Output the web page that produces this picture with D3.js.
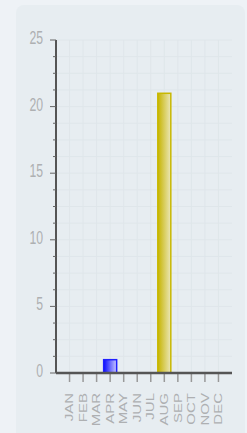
<!DOCTYPE html>
<html>
<head>
<meta charset="utf-8">
<style>
  html, body { margin: 0; padding: 0; background: #eef2f6; }
  svg { display: block; }
  .lbl { fill: #aeb0b2; font-family: "Liberation Sans", Arial, sans-serif; }
</style>
</head>
<body>
<script src="https://cdn.jsdelivr.net/npm/d3@7/dist/d3.min.js"></script>
<script>
var months = ["JAN", "FEB", "MAR", "APR", "MAY", "JUN", "JUL", "AUG", "SEP", "OCT", "NOV", "DEC"];
var counts = [0, 0, 0, 1, 0, 0, 0, 21, 0, 0, 0, 0];
var barColors = ["blue", "blue", "blue", "blue", "blue", "blue", "blue", "yellow", "blue", "blue", "blue", "blue"];
var yTicks = [0, 5, 10, 15, 20, 25];

var width = 247, height = 433;
var squeeze = 0.68; // text looks horizontally compressed

var svg = d3.select("body").append("svg")
    .attr("width", width)
    .attr("height", height);

// panel
svg.append("rect")
    .attr("x", 16).attr("y", 5)
    .attr("width", 229).attr("height", 460)
    .attr("rx", 8)
    .attr("fill", "#e7edf1");

var defs = svg.append("defs");
var grads = {
    blue: ["#0a0aff", "#c8c8ff", "#2020ff"],
    yellow: ["#c6b400", "#ebe7b8", "#c8b800"]
};
Object.keys(grads).forEach(function (k) {
    var g = defs.append("linearGradient").attr("id", "g-" + k)
        .attr("x1", "0").attr("x2", "1").attr("y1", "0").attr("y2", "0");
    g.append("stop").attr("offset", "0%").attr("stop-color", grads[k][0]);
    g.append("stop").attr("offset", "100%").attr("stop-color", grads[k][1]);
});

var x0 = 56, x1 = 232, yTop = 40, yBot = 373;

var x = d3.scalePoint().domain(months).range([x0, x1]).padding(1);
var y = d3.scaleLinear().domain([0, 25]).range([yBot, yTop]);

var minor = d3.range(0, 25.01, 1.25);

// grid
svg.append("g").selectAll("line.h").data(minor).enter().append("line")
    .attr("x1", x0).attr("x2", x1)
    .attr("y1", function (d) { return y(d); })
    .attr("y2", function (d) { return y(d); })
    .attr("stroke", "#dfe6ea").attr("stroke-width", 1);
svg.append("g").selectAll("line.v").data(months).enter().append("line")
    .attr("x1", function (d) { return x(d); })
    .attr("x2", function (d) { return x(d); })
    .attr("y1", yTop).attr("y2", yBot)
    .attr("stroke", "#dfe6ea").attr("stroke-width", 1);

// bars
var bw = 13;
svg.append("g").selectAll("rect").data(months).enter().append("rect")
    .filter(function (d, i) { return counts[i] > 0; })
    .attr("x", function (d) { return x(d) - bw / 2; })
    .attr("y", function (d) { return y(counts[months.indexOf(d)]); })
    .attr("width", bw)
    .attr("height", function (d) { return yBot - y(counts[months.indexOf(d)]); })
    .attr("fill", function (d) { return "url(#g-" + barColors[months.indexOf(d)] + ")"; })
    .attr("stroke", function (d) { return grads[barColors[months.indexOf(d)]][2]; })
    .attr("stroke-width", 1.5);

// y axis
var yAxis = svg.append("g").attr("transform", "translate(" + x0 + ",0)");
yAxis.append("line").attr("x1", 0).attr("x2", 0).attr("y1", yTop).attr("y2", yBot)
    .attr("stroke", "#555").attr("stroke-width", 2);
yAxis.selectAll("line.minor").data(minor.filter(function (d) { return d % 5 !== 0; })).enter().append("line")
    .attr("x1", -3).attr("x2", 0)
    .attr("y1", function (d) { return y(d); }).attr("y2", function (d) { return y(d); })
    .attr("stroke", "#666").attr("stroke-width", 1);
yAxis.selectAll("line.major").data(yTicks).enter().append("line")
    .attr("x1", -6).attr("x2", 0)
    .attr("y1", function (d) { return y(d); }).attr("y2", function (d) { return y(d); })
    .attr("stroke", "#666").attr("stroke-width", 1);
svg.append("g").selectAll("text").data(yTicks).enter().append("text")
    .attr("class", "lbl")
    .attr("transform", function (d) { return "translate(43," + (y(d) + 4) + ") scale(" + squeeze + ",1)"; })
    .attr("text-anchor", "end")
    .style("font-size", "18px")
    .text(function (d) { return d; });

// x axis
svg.append("g").selectAll("line").data(months).enter().append("line")
    .attr("x1", function (d) { return x(d); }).attr("x2", function (d) { return x(d); })
    .attr("y1", yBot).attr("y2", yBot + 9)
    .attr("stroke", "#999").attr("stroke-width", 1.5);
svg.append("line").attr("x1", x0).attr("x2", x1).attr("y1", yBot).attr("y2", yBot)
    .attr("stroke", "#555").attr("stroke-width", 2.5);
svg.append("g").selectAll("text").data(months).enter().append("text")
    .attr("class", "lbl")
    .attr("transform", function (d) { return "translate(" + x(d) + ",393) scale(" + squeeze + ",1) rotate(-90)"; })
    .attr("text-anchor", "end")
    .attr("dy", "0.36em")
    .style("font-size", "15px")
    .text(function (d) { return d; });
</script>
</body>
</html>
